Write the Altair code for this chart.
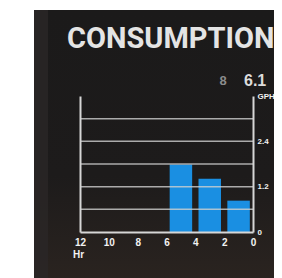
import altair as alt
import pandas as pd

# ---- data ----
hours = [5, 3, 1]
gph = [1.79, 1.41, 0.83]
half_width = [0.78, 0.78, 0.78]
grid_values = [0.6, 1.2, 1.8, 2.4, 3.0]
x_ticks = [0, 2, 4, 6, 8, 10, 12]
y_ticks = [0, 1.2, 2.4, 3.6]
title_text = ["CONSUMPTION"]
icon_text = ["8"]
reading_text = ["6.1"]

bars_df = pd.DataFrame({
    "hour": hours,
    "gph": gph,
    "x0": [h - w for h, w in zip(hours, half_width)],
    "x1": [h + w for h, w in zip(hours, half_width)],
})
grid_df = pd.DataFrame({"g": grid_values})
one = pd.DataFrame({"k": [0]})

AX = "#d6d6d6"
FONT = "Liberation Sans, Arial, sans-serif"

x_scale = alt.Scale(domain=[0, 12], reverse=True, nice=False, zero=False)
y_scale = alt.Scale(domain=[0, 3.6], nice=False)

panel = alt.Chart(one).mark_rect(
    color=alt.LinearGradient(
        gradient="linear", x1=0, y1=0, x2=0, y2=1,
        stops=[alt.GradientStop(color="#1b1a1a", offset=0),
               alt.GradientStop(color="#1d1b1b", offset=0.6),
               alt.GradientStop(color="#2b2420", offset=1)]
    )
).encode(x=alt.value(-46), x2=alt.value(210), y=alt.value(-86), y2=alt.value(190))

stripe = alt.Chart(one).mark_rect(color="#2a2727", opacity=0.8).encode(
    x=alt.value(-46), x2=alt.value(-32), y=alt.value(-86), y2=alt.value(190)
)

bars = alt.Chart(bars_df).mark_bar(color="#1a8fe2").encode(
    x=alt.X("x0:Q", scale=x_scale, axis=alt.Axis(
        values=x_ticks, orient="bottom", ticks=False, grid=False, zindex=2,
        domainColor=AX, domainWidth=2, labelColor="#f2f2f2",
        labelFont=FONT, labelFontWeight="bold", labelFontSize=10,
        labelPadding=5, labelFlush=False, labelOverlap=False,
        title="Hr", titleX=-2, titleY=25, titleAlign="center",
        titleBaseline="alphabetic", titleFont=FONT, titleFontSize=10,
        titleFontWeight="bold", titleColor="#f2f2f2")),
    x2="x1:Q",
    y=alt.Y("gph:Q", scale=y_scale, axis=alt.Axis(
        orient="right", values=y_ticks, ticks=False, grid=False, zindex=2,
        domainColor=AX, domainWidth=2, labelColor="#f2f2f2",
        labelFont=FONT, labelFontWeight="bold", labelFontSize=8,
        labelPadding=4, labelFlush=False, labelOverlap=False,
        labelExpr="datum.value >= 3.6 ? 'GPH' : format(datum.value, '.2~f')",
        title=None)),
    y2=alt.datum(0),
)

grid = alt.Chart(grid_df).mark_rule(color="#cfcfcf", strokeWidth=1.5, opacity=0.8).encode(
    y=alt.Y("g:Q", scale=y_scale, axis=alt.Axis(
        orient="left", labels=False, ticks=False, grid=False, zindex=2,
        domainColor=AX, domainWidth=2, title=None)),
)

title = alt.Chart(pd.DataFrame({"t": title_text})).mark_text(
    font="Roboto, Liberation Sans, sans-serif",
    fontWeight="bold", fontSize=29, color="#e4e4e4", align="left", baseline="alphabetic"
).encode(text="t:N", x=alt.value(-13), y=alt.value(-48))

icon = alt.Chart(pd.DataFrame({"t": icon_text})).mark_text(
    font=FONT, fontWeight="bold", fontSize=13, color="#8c8c8c", align="center", baseline="alphabetic"
).encode(text="t:N", x=alt.value(143), y=alt.value(-11))

reading = alt.Chart(pd.DataFrame({"t": reading_text})).mark_text(
    font=FONT, fontWeight="bold", fontSize=16, color="#dcdcdc", align="left", baseline="alphabetic"
).encode(text="t:N", x=alt.value(164), y=alt.value(-10))

chart = alt.layer(panel, stripe, bars, grid, title, icon, reading).resolve_axis(
    y="independent"
).properties(
    width=173, height=136,
    autosize=alt.AutoSizeParams(type="none"),
    padding={"left": 72, "top": 88, "right": 21, "bottom": 46},
    background="#ffffff",
).configure_view(stroke=None)

chart.save("out.html", embed_options={"renderer": "svg", "actions": False})
